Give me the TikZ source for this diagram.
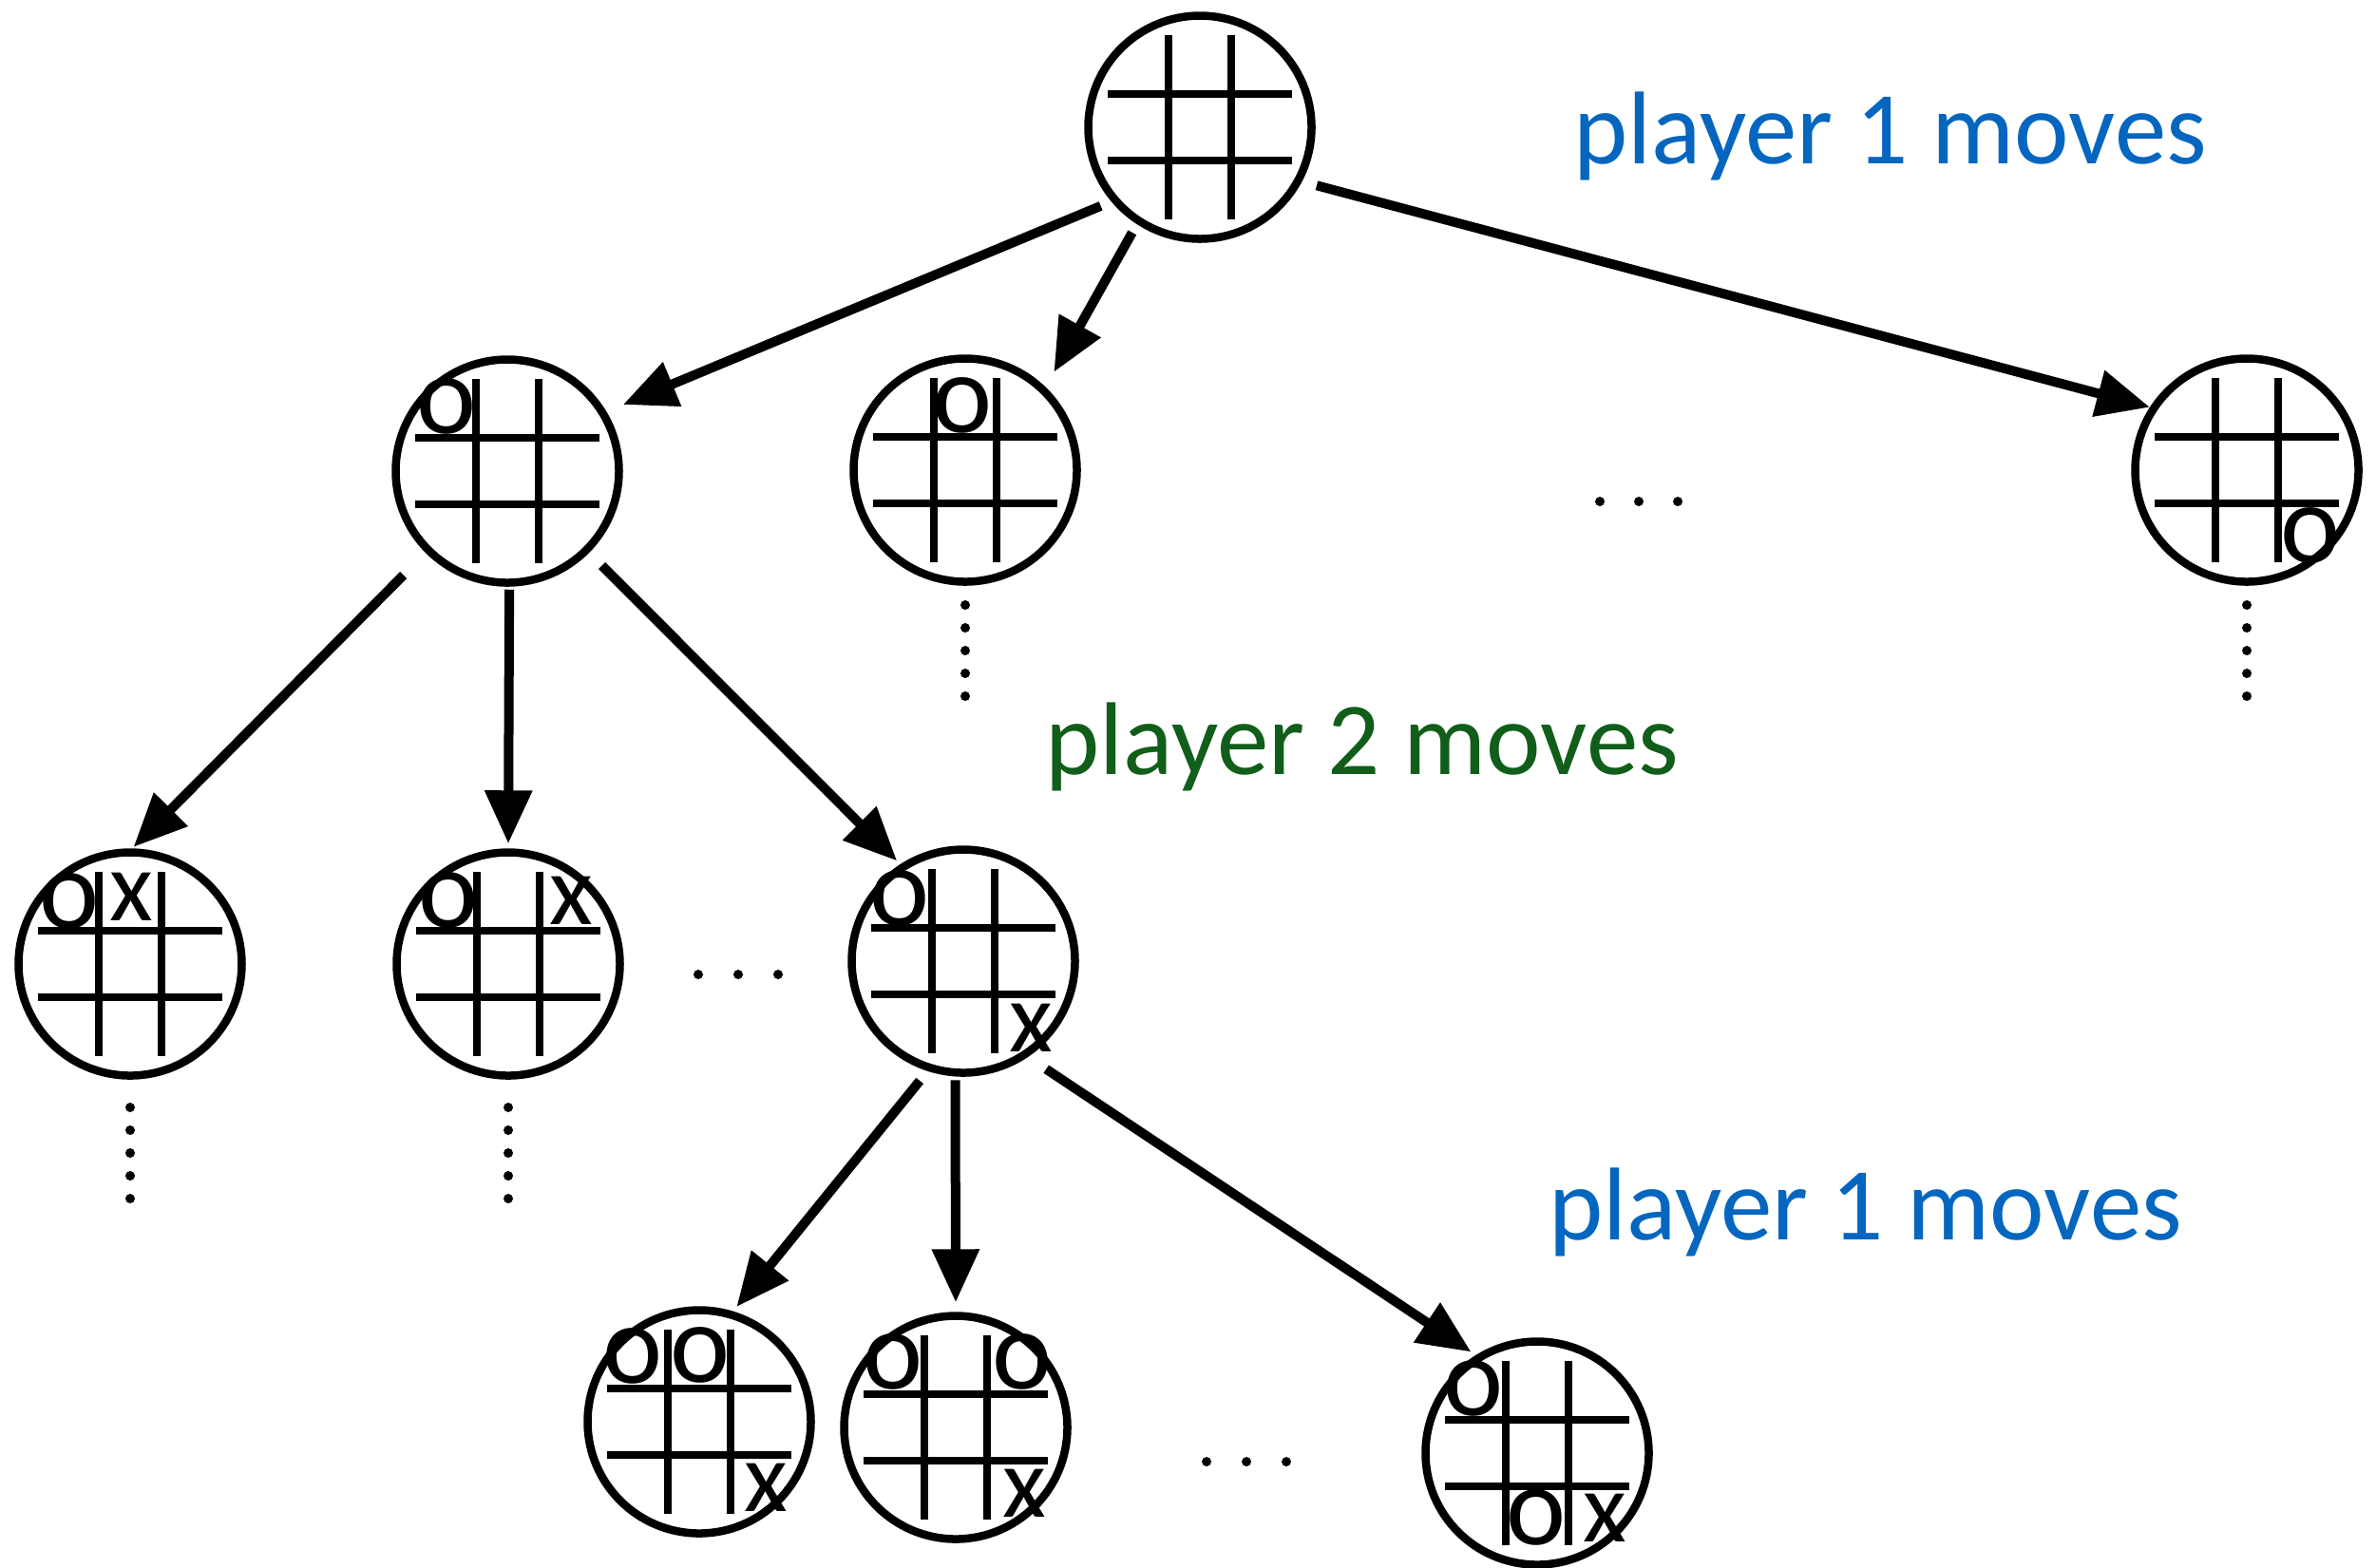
\documentclass[tikz,border=0pt]{standalone}
\usepackage{fontspec}
\setmainfont{Carlito}
\usetikzlibrary{arrows.meta,calc,positioning}

\definecolor{moveblue}{RGB}{5,102,192}
\definecolor{movegreen}{RGB}{16,94,26}

\tikzset{
	board/.style={circle,draw,line width=0.085cm,minimum size=2.35cm,inner sep=0pt},
	gridline/.style={line width=0.08cm},
	omark/.style={inner sep=0pt,font=\fontsize{34pt}{38pt}\selectfont},
	xmark/.style={inner sep=0pt,font=\fontsize{30pt}{34pt}\selectfont},
	movetext/.style={anchor=base west,inner sep=0pt,font=\fontsize{31pt}{37pt}\selectfont},
	movearrow/.style={->,line width=0.1cm},
}

% the 3x3 lines of a board
\newcommand{\ttgrid}[1]{%
	\foreach \d in {-0.33,0.33}
		\draw[gridline] ([shift={(\d,0.97)}]#1.center) -- ([shift={(\d,-0.97)}]#1.center);
	\foreach \d in {-0.35,0.35}
		\draw[gridline] ([shift={(-0.97,\d)}]#1.center) -- ([shift={(0.97,\d)}]#1.center);
}
% five dots below a board
\newcommand{\dotsbelow}[2]{%
	\foreach \k in {0,...,4}
		\fill ([yshift={-#2cm-\k*0.24cm}]#1.center) circle (0.05);
}

\begin{document}
\begin{tikzpicture}[>={Triangle[length=0.56cm,width=0.48cm]}]
		\useasboundingbox (0,0) rectangle (25.01,-16.5);
		% boards
		\node[board] (root) at (12.63,-1.34) {};
		\node[board] (l1a) at (5.34,-4.96) {};
		\node[board] (l1b) at (10.16,-4.95) {};
		\node[board] (l1c) at (23.65,-4.95) {};
		\node[board] (l2a) at (1.37,-10.15) {};
		\node[board] (l2b) at (5.35,-10.15) {};
		\node[board] (l2c) at (10.14,-10.12) {};
		\node[board] (l3a) at (7.36,-14.97) {};
		\node[board] (l3b) at (10.06,-15.03) {};
		\node[board] (l3c) at (16.18,-15.30) {};
		\foreach \b in {root,l1a,l1b,l1c,l2a,l2b,l2c,l3a,l3b,l3c} {\ttgrid{\b}}
		% marks
		\node[omark] (l1a-o) at ([shift={(-0.64,0.68)}]l1a.center) {o};
		\node[omark] (l1b-o) at ([shift={(-0.03,0.68)}]l1b.center) {o};
		\node[omark] (l1c-o) at ([shift={(0.67,-0.69)}]l1c.center) {o};
		\node[omark] (l2a-o) at ([shift={(-0.64,0.66)}]l2a.center) {o};
		\node[xmark] (l2a-x) at ([shift={(0.01,0.71)}]l2a.center) {x};
		\node[omark] (l2b-o) at ([shift={(-0.63,0.67)}]l2b.center) {o};
		\node[xmark] (l2b-x) at ([shift={(0.66,0.67)}]l2b.center) {x};
		\node[omark] (l2c-o) at ([shift={(-0.67,0.66)}]l2c.center) {o};
		\node[xmark] (l2c-x) at ([shift={(0.71,-0.70)}]l2c.center) {x};
		\node[omark] (l3a-o1) at ([shift={(-0.70,0.69)}]l3a.center) {o};
		\node[omark] (l3a-o2) at ([shift={(0.01,0.70)}]l3a.center) {o};
		\node[xmark] (l3a-x) at ([shift={(0.70,-0.69)}]l3a.center) {x};
		\node[omark] (l3b-o1) at ([shift={(-0.66,0.69)}]l3b.center) {o};
		\node[omark] (l3b-o2) at ([shift={(0.70,0.69)}]l3b.center) {o};
		\node[xmark] (l3b-x) at ([shift={(0.72,-0.69)}]l3b.center) {x};
		\node[omark] (l3c-o1) at ([shift={(-0.67,0.68)}]l3c.center) {o};
		\node[omark] (l3c-o2) at ([shift={(-0.01,-0.68)}]l3c.center) {o};
		\node[xmark] (l3c-x) at ([shift={(0.71,-0.68)}]l3c.center) {x};
		% moves
		\draw[movearrow,shorten <=0.12cm,shorten >=0.19cm] (root.220) -- (l1a.31);
		\draw[movearrow,shorten <=0.10cm,shorten >=0.18cm] (root.237) -- (l1b.46);
		\draw[movearrow,shorten <=0.16cm] (root.332) -- (l1c.147);
		\draw[movearrow,shorten <=0.33cm,shorten >=0.02cm] (l1a.225) -- (l2a.89);
		\draw[movearrow,shorten <=0.03cm,shorten >=0.05cm] (l1a.271) -- (l2b.90);
		\draw[movearrow,shorten <=0.19cm,shorten >=0.05cm] (l1a.315) -- (l2c.123);
		\draw[movearrow,shorten <=0.13cm,shorten >=0.06cm] (l2c.252) -- (l3a.73);
		\draw[movearrow,shorten <=0.04cm,shorten >=0.10cm] (l2c.266) -- (l3b.90);
		\draw[movearrow,shorten <=0.23cm,shorten >=0.06cm] (l2c.304) -- (l3c.122);
		% more moves not shown
		\dotsbelow{l1b}{1.42}
		\dotsbelow{l1c}{1.42}
		\dotsbelow{l2a}{1.51}
		\dotsbelow{l2b}{1.51}
		\foreach \x in {16.84,17.25,17.66} \fill (\x,-5.28) circle (0.05);
		\foreach \x in {7.35,7.77,8.19} \fill (\x,-10.26) circle (0.05);
		\foreach \x in {12.70,13.12,13.54} \fill (\x,-15.39) circle (0.05);
		% who moves
		\node[movetext,text=moveblue] (p1-top) at (16.56,-1.72) {player 1 moves};
		\node[movetext,text=movegreen] (p2-mid) at (11.00,-8.15) {player 2 moves};
		\node[movetext,text=moveblue] (p1-bot) at (16.30,-13.05) {player 1 moves};
	\end{tikzpicture}
\end{document}
